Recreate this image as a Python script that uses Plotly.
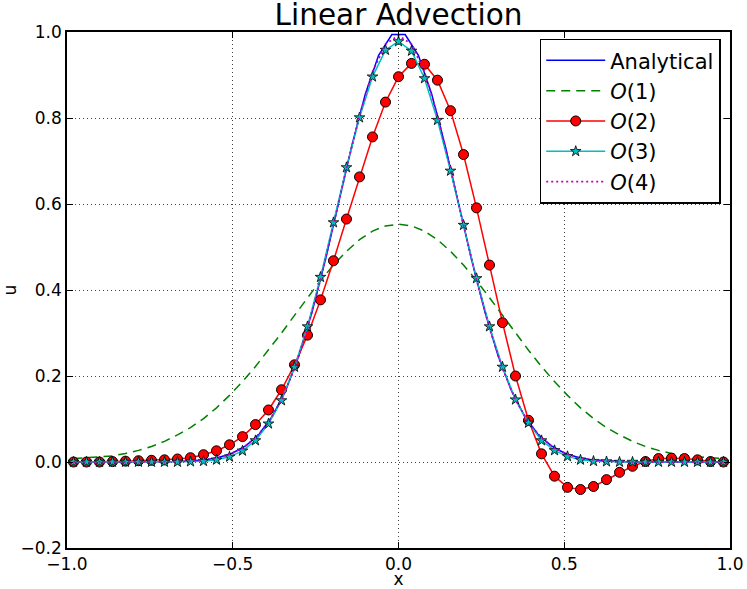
import plotly.graph_objs as go

# cell centres used by the numerical schemes (51 cells on [-1, 1])
x_num = [-0.9804, -0.9412, -0.9020, -0.8627, -0.8235, -0.7843, -0.7451, -0.7059,
         -0.6667, -0.6275, -0.5882, -0.5490, -0.5098, -0.4706, -0.4314, -0.3922,
         -0.3529, -0.3137, -0.2745, -0.2353, -0.1961, -0.1569, -0.1176, -0.0784,
         -0.0392, 0.0, 0.0392, 0.0784, 0.1176, 0.1569, 0.1961, 0.2353,
         0.2745, 0.3137, 0.3529, 0.3922, 0.4314, 0.4706, 0.5098, 0.5490,
         0.5882, 0.6275, 0.6667, 0.7059, 0.7451, 0.7843, 0.8235, 0.8627,
         0.9020, 0.9412, 0.9804]

# points of the exact solution
x_exact = [-0.98, -0.94, -0.90, -0.86, -0.82, -0.78, -0.74, -0.70, -0.66, -0.62,
           -0.58, -0.54, -0.50, -0.46, -0.42, -0.38, -0.34, -0.30, -0.26, -0.22,
           -0.18, -0.14, -0.10, -0.06, -0.02, 0.02, 0.06, 0.10, 0.14, 0.18,
           0.22, 0.26, 0.30, 0.34, 0.38, 0.42, 0.46, 0.50, 0.54, 0.58,
           0.62, 0.66, 0.70, 0.74, 0.78, 0.82, 0.86, 0.90, 0.94, 0.98]

u_exact = [0.0, 0.0, 0.0, 0.0, 0.0, 0.0, 0.0, 0.0, 0.001, 0.003,
           0.005, 0.011, 0.021, 0.038, 0.065, 0.107, 0.167, 0.248, 0.351, 0.472,
           0.605, 0.738, 0.856, 0.946, 0.994, 0.994, 0.946, 0.856, 0.738, 0.605,
           0.472, 0.351, 0.248, 0.167, 0.107, 0.065, 0.038, 0.021, 0.011, 0.005,
           0.003, 0.001, 0.0, 0.0, 0.0, 0.0, 0.0, 0.0, 0.0, 0.0]

u_o1 = [0.008, 0.010, 0.012, 0.014, 0.020, 0.027, 0.036, 0.048, 0.063, 0.080,
        0.101, 0.126, 0.155, 0.187, 0.222, 0.260, 0.300, 0.341, 0.382, 0.422,
        0.458, 0.490, 0.517, 0.537, 0.549, 0.553, 0.549, 0.537, 0.517, 0.490,
        0.458, 0.422, 0.382, 0.341, 0.300, 0.260, 0.222, 0.187, 0.155, 0.126,
        0.101, 0.080, 0.063, 0.048, 0.036, 0.027, 0.020, 0.014, 0.012, 0.010,
        0.008]

u_o2 = [0.0, 0.0, 0.0, 0.001, 0.002, 0.003, 0.004, 0.005, 0.007, 0.010,
        0.017, 0.026, 0.040, 0.059, 0.087, 0.121, 0.168, 0.226, 0.295, 0.377,
        0.468, 0.565, 0.663, 0.756, 0.837, 0.896, 0.927, 0.925, 0.888, 0.817,
        0.715, 0.591, 0.458, 0.324, 0.200, 0.097, 0.019, -0.033, -0.059, -0.064,
        -0.057, -0.041, -0.024, -0.010, 0.001, 0.008, 0.009, 0.008, 0.005, 0.001,
        0.0]

u_o3 = [0.0, 0.0, 0.0, 0.0, 0.0, 0.0, 0.0, 0.0, 0.0, 0.001,
        0.002, 0.005, 0.012, 0.026, 0.050, 0.089, 0.143, 0.221, 0.315, 0.430,
        0.557, 0.685, 0.801, 0.896, 0.958, 0.978, 0.956, 0.892, 0.795, 0.677,
        0.551, 0.427, 0.315, 0.221, 0.145, 0.091, 0.050, 0.027, 0.013, 0.005,
        0.002, 0.001, 0.0, 0.0, 0.0, 0.0, 0.0, 0.0, 0.0, 0.0,
        0.0]

u_o4 = [0.0, 0.0, 0.0, 0.0, 0.0, 0.0, 0.0, 0.0, 0.001, 0.002,
        0.005, 0.009, 0.018, 0.032, 0.056, 0.092, 0.145, 0.217, 0.311, 0.424,
        0.551, 0.683, 0.806, 0.907, 0.972, 0.992, 0.972, 0.907, 0.806, 0.683,
        0.551, 0.424, 0.311, 0.217, 0.145, 0.092, 0.056, 0.032, 0.018, 0.009,
        0.005, 0.002, 0.001, 0.0, 0.0, 0.0, 0.0, 0.0, 0.0, 0.0,
        0.0]

x_ticks = [-1.0, -0.5, 0.0, 0.5, 1.0]
y_ticks = [-0.2, 0.0, 0.2, 0.4, 0.6, 0.8, 1.0]

font = 'DejaVu Sans'

data = [
    go.Scatter(x=x_exact, y=u_exact, mode='lines', name='Analytical',
               line=dict(color='#0000ff', width=1.5)),
    go.Scatter(x=x_num, y=u_o1, mode='lines', name='<i>O</i>(1)',
               line=dict(color='#008000', width=1.5, dash='9px,6px')),
    go.Scatter(x=x_num, y=u_o2, mode='lines+markers', name='<i>O</i>(2)',
               line=dict(color='#ff0000', width=1.5),
               marker=dict(symbol='circle', size=10, color='#ff0000',
                           line=dict(color='black', width=1))),
    go.Scatter(x=x_num, y=u_o3, mode='lines+markers', name='<i>O</i>(3)',
               line=dict(color='#00bfbf', width=1.5),
               marker=dict(symbol='star', size=8, color='#00bfbf',
                           line=dict(color='black', width=0.8))),
    go.Scatter(x=x_num, y=u_o4, mode='lines', name='<i>O</i>(4)',
               line=dict(color='#bf00bf', width=1.8, dash='2px,3px')),
]

fig = go.Figure(data=data)

axis_style = dict(showline=True, linecolor='black', linewidth=1.5, mirror='ticks',
                  ticks='inside', ticklen=6, tickwidth=1, tickcolor='black',
                  showgrid=True, gridcolor='#444444', gridwidth=1, griddash='1px,3px',
                  zeroline=False, tickformat='.1f', automargin=False,
                  tickfont=dict(family=font, size=17, color='black'))

fig.update_xaxes(range=[-1.0, 1.0], tickvals=x_ticks,
                 title=dict(text='x', font=dict(family=font, size=17, color='black'), standoff=2),
                 **axis_style)
fig.update_yaxes(range=[-0.2, 1.0], tickvals=y_ticks,
                 title=dict(text='u', font=dict(family=font, size=17, color='black'), standoff=28),
                 **axis_style)

fig.update_layout(
    width=747, height=589,
    margin=dict(l=67, r=17, t=32, b=41),
    paper_bgcolor='white', plot_bgcolor='white',
    font=dict(family=font, color='black'),
    title=dict(text='Linear Advection', font=dict(family=font, size=29.5, color='black'),
               x=0.5, xref='paper', xanchor='center', y=0.975, yref='container', yanchor='middle'),
    legend=dict(x=0.986, y=0.987, xanchor='right', yanchor='top', itemwidth=59,
                bgcolor='white', bordercolor='black', borderwidth=1.5,
                font=dict(family=font, size=21, color='black')),
    showlegend=True,
)

# drop the page's default body margin so the figure sits at the window corner
fig.write_html('out.html', config={'displayModeBar': False},
               post_script="document.body.style.margin='0px';")
